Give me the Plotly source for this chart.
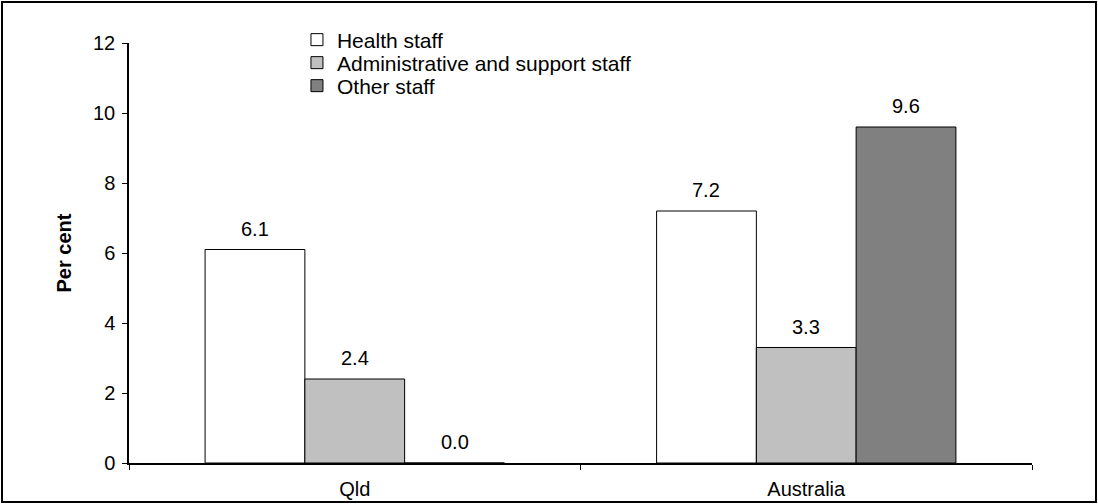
import plotly.graph_objects as go

categories = ["Qld", "Australia"]
health = [6.1, 7.2]
admin = [2.4, 3.3]
other = [0.0, 9.6]
series_names = ["Health staff", "Administrative and support staff", "Other staff"]
colors = ["#ffffff", "#c0c0c0", "#808080"]

W, H = 1098, 504
ml, mr, mt, mb = 129, 66, 43, 41
pw, ph = W - ml - mr, H - mt - mb
bargap = 0.337
bar_px = pw / len(categories) * (1 - bargap) / 3

# one small legend per series so the rows can sit closer together
legend_ids = ["legend", "legend2", "legend3"]
row_y = [40, 63, 86]

fig = go.Figure()
for i, (name, vals, col) in enumerate(zip(series_names, [health, admin, other], colors)):
    fig.add_trace(go.Bar(
        name=name, x=categories, y=vals, legend=legend_ids[i],
        marker=dict(color=col, line=dict(color="black", width=1)),
    ))
    # value labels sit a little higher than plotly's own outside text
    for cat, v in zip(categories, vals):
        fig.add_annotation(x=cat, y=v, text=f"{v:.1f}", showarrow=False,
                           xshift=(i - 1) * bar_px, yanchor="bottom", yshift=8,
                           font=dict(size=20, color="black"))

leg_style = dict(x=0.186, xanchor="left", yanchor="middle",
                 bgcolor="rgba(0,0,0,0)", font=dict(size=21),
                 itemwidth=30, borderwidth=0)
legends = {lid: dict(leg_style, y=1 - (ry - mt) / ph) for lid, ry in zip(legend_ids, row_y)}

# frame round the whole picture
fig.add_shape(type="rect", xref="paper", yref="paper",
              x0=(2 - ml) / pw, x1=(W - 2 - ml) / pw,
              y0=-(mb - 2) / ph, y1=1 + (mt - 2) / ph,
              line=dict(color="black", width=2))

fig.update_layout(
    width=W, height=H,
    margin=dict(l=ml, r=mr, t=mt, b=mb),
    paper_bgcolor="white", plot_bgcolor="white",
    barmode="group", bargap=bargap, bargroupgap=0,
    font=dict(family="Liberation Sans, Arial", size=20, color="black"),
    showlegend=True,
    **legends,
    xaxis=dict(showline=True, linecolor="black", linewidth=1.5,
               ticks="outside", tickson="boundaries", ticklen=5,
               tickcolor="black", showgrid=False, ticklabelstandoff=7,
               automargin=False),
    yaxis=dict(range=[0, 12], dtick=2, showline=True, linecolor="black",
               linewidth=1.5, ticks="outside", ticklen=5, tickcolor="black",
               showgrid=False, zeroline=False, ticklabelstandoff=3,
               automargin=False,
               title=dict(text="<b>Per cent</b>", font=dict(size=20), standoff=16)),
)

fig.write_html("out.html", config={"displayModeBar": False},
               post_script="document.body.style.margin='0';")
